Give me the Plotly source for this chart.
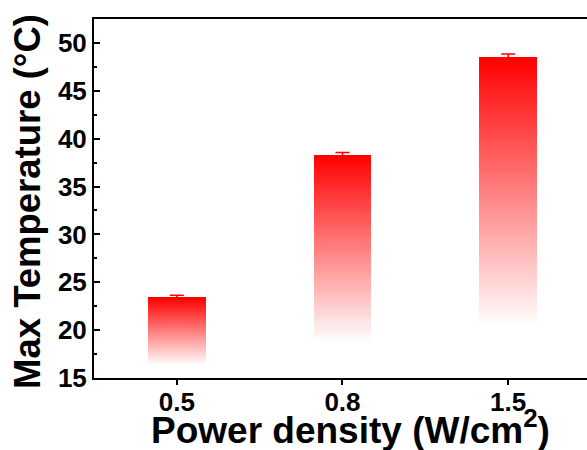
import plotly.graph_objects as go

categories = ["0.5", "0.8", "1.5"]
max_temp = [23.45, 38.3, 48.55]
temp_err = [0.2, 0.25, 0.3]

y_min = 15.0
n_seg = 80
fade = 0.84  # fraction of bar height over which red fades to white

xs, bases, lens, cols = [], [], [], []
for i, v in enumerate(max_temp):
    h = v - y_min
    step = h / n_seg
    for k in range(n_seg):
        b = y_min + k * step
        mid_from_top = (v - (b + step / 2)) / h
        t = min(mid_from_top / fade, 1.0)
        g = int(round(255 * t))
        xs.append(i)
        bases.append(b)
        lens.append(step * 1.02)
        cols.append(f"rgb(255,{g},{g})")

fig = go.Figure()
fig.add_trace(go.Bar(
    x=xs, y=lens, base=bases, width=0.35,
    marker=dict(color=cols, line=dict(width=0)),
    hoverinfo="skip", showlegend=False,
))
fig.add_trace(go.Scatter(
    x=list(range(len(categories))), y=max_temp, mode="markers",
    marker=dict(size=1, color="rgba(255,0,0,0)"),
    error_y=dict(type="data", array=temp_err, color="red", thickness=1.6, width=7),
    showlegend=False, hoverinfo="skip",
))

font_family = "Liberation Sans, Arial, sans-serif"
L, R, T, B = 94, 0, 19, 72
W, H = 587, 450
pw, ph = W - L - R, H - T - B

fig.update_layout(
    width=W, height=H,
    margin=dict(l=L, r=R, t=T, b=B, autoexpand=False),
    paper_bgcolor="white", plot_bgcolor="white",
    barmode="overlay", bargap=0,
    font=dict(family=font_family, color="black", size=26, weight="bold"),
    xaxis=dict(
        range=[-0.5, 2.476], automargin=False,
        tickvals=list(range(len(categories))), ticktext=categories,
        ticks="outside", ticklen=5, tickwidth=2, tickcolor="black",
        ticklabelstandoff=-5,
        showline=True, linewidth=2, linecolor="black", mirror=True,
        showgrid=False, zeroline=False,
        tickfont=dict(size=26, family=font_family, weight="bold", color="black"),
    ),
    yaxis=dict(
        range=[15, 52.5], automargin=False,
        tick0=15, dtick=5,
        ticks="inside", ticklen=6, tickwidth=2, tickcolor="black",
        minor=dict(ticks="inside", ticklen=3, tickwidth=1.5, dtick=2.5, tick0=15, tickcolor="black"),
        showline=True, linewidth=2, linecolor="black",
        showgrid=False, zeroline=False,
        tickfont=dict(size=26, family=font_family, weight="bold", color="black"),
    ),
    annotations=[
        dict(text="Max Temperature (°C)", xref="paper", yref="paper",
             x=(27 - L) / pw, y=(H - B - 202) / ph, xanchor="center", yanchor="middle",
             textangle=-90, showarrow=False,
             font=dict(size=36.5, family=font_family, weight="bold", color="black")),
        dict(text="Power density (W/cm<sup>2</sup>)", xref="paper", yref="paper",
             x=(350 - L) / pw, y=(H - B - 427) / ph, xanchor="center", yanchor="middle",
             showarrow=False,
             font=dict(size=37, family=font_family, weight="bold", color="black")),
    ],
)

fig.write_html("out.html", config={"displayModeBar": False},
               post_script="document.body.style.margin='0';")
